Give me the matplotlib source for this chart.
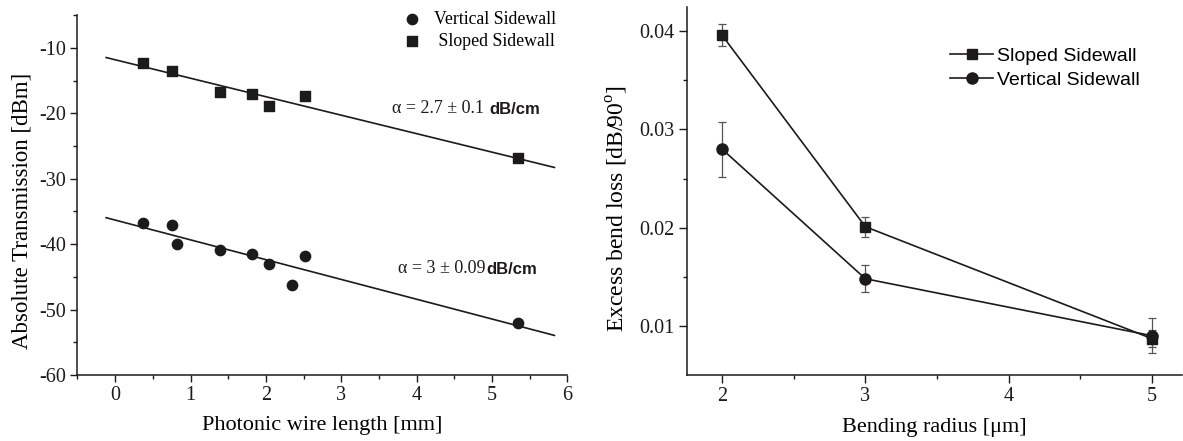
import numpy as np
import matplotlib
matplotlib.use('Agg')
import matplotlib.pyplot as plt

plt.rcParams['font.family'] = ['Liberation Serif', 'DejaVu Serif']
plt.rcParams['mathtext.fontset'] = 'custom'
plt.rcParams['mathtext.rm'] = 'Liberation Serif'
plt.rcParams['axes.unicode_minus'] = False

# --- left panel: transmission vs wire length
len_sloped = [0.37, 0.75, 1.39, 1.81, 2.04, 2.52, 5.34]
trans_sloped = [-12.3, -13.6, -16.7, -17.1, -18.9, -17.4, -26.9]
len_vert = [0.37, 0.75, 0.82, 1.39, 1.81, 2.04, 2.35, 2.52, 5.34]
trans_vert = [-36.8, -37.1, -40.0, -40.9, -41.5, -43.0, -46.3, -41.8, -52.1]
fit_span = [-0.12, 5.83]
alpha_sloped = 'α = 2.7 ± 0.1 '
alpha_vert = 'α = 3 ± 0.09'

# --- right panel: bend loss vs radius
radius = [2, 3, 5]
loss_sloped = [0.0396, 0.0201, 0.0087]
err_sloped = [0.0011, 0.0010, 0.0009]
loss_vert = [0.0280, 0.0148, 0.0090]
err_vert = [0.0028, 0.0014, 0.0018]

ink = '#1c1a1b'

fig = plt.figure(figsize=(11.83, 4.41), dpi=100)
ax1 = fig.add_axes([0.0655, 0.1497, 0.414, 0.816])
ax2 = fig.add_axes([0.5807, 0.1497, 0.4185, 0.835])

for ax, tl in ((ax1, 5), (ax2, 6)):
    for s in ('top', 'right'):
        ax.spines[s].set_visible(False)
    for s in ('left', 'bottom'):
        ax.spines[s].set_linewidth(1.1)
        ax.spines[s].set_color(ink)
    ax.tick_params(which='major', direction='out', length=tl, width=1.0,
                   labelsize=14.5, colors=ink, pad=3)
    ax.tick_params(which='minor', direction='out', length=3, width=1.0, colors=ink)

# left
ax1.scatter(len_vert, trans_vert, marker='o', s=55, color=ink, zorder=3,
            label='Vertical Sidewall')
ax1.scatter(len_sloped, trans_sloped, marker='s', s=45, color=ink, zorder=3,
            label=' Sloped Sidewall')
for xs, ys in ((len_sloped, trans_sloped), (len_vert, trans_vert)):
    p = np.polyfit(xs, ys, 1)
    ax1.plot(fit_span, np.polyval(p, fit_span), color=ink, lw=1.2, zorder=2)

ax1.set_xlim(-0.5, 6)
ax1.set_ylim(-60, -5)
ax1.set_xticks(np.arange(0, 7, 1))
ax1.set_xticks(np.arange(-0.5, 6, 1), minor=True)
ax1.set_yticks(np.arange(-60, -9, 10))
ax1.set_yticks(np.arange(-55, -4, 10), minor=True)
ax1.set_xlabel('Photonic wire length [mm]', fontsize=16, labelpad=8)
ax1.set_ylabel('Absolute Transmission [dBm]', fontsize=16.5)
ax1.yaxis.set_label_coords(-0.092, 0.456)
ax1.legend(loc='upper left', bbox_to_anchor=(0.6656, 1.012), frameon=False,
           fontsize=12.8, handlelength=1.0, handletextpad=0.7, labelspacing=0.3,
           borderpad=0, borderaxespad=0)

t1 = ax1.text(3.68, -19.2, alpha_sloped, fontsize=13, va='center', color=ink)
ax1.annotate('dB/cm', xy=(1, 0), xycoords=t1, va='bottom', ha='left',
             fontsize=12, fontweight='bold', family='Liberation Sans', color=ink)
t2 = ax1.text(3.76, -43.7, alpha_vert, fontsize=13, va='center', color=ink)
ax1.annotate('dB/cm', xy=(1, 0), xycoords=t2, va='bottom', ha='left',
             fontsize=12, fontweight='bold', family='Liberation Sans', color=ink)

# right
ax2.errorbar(radius, loss_sloped, yerr=err_sloped, fmt='none',
             ecolor='#555555', elinewidth=0.9, capsize=3, capthick=0.9)
ax2.errorbar(radius, loss_vert, yerr=err_vert, fmt='none',
             ecolor='#555555', elinewidth=0.9, capsize=3, capthick=0.9)
ax2.plot(radius, loss_sloped, marker='s', ms=7, color=ink, lw=1.2,
         label='Sloped Sidewall')
ax2.plot(radius, loss_vert, marker='o', ms=8, color=ink, lw=1.2,
         label='Vertical Sidewall')
ax2.set_xlim(1.755, 5.21)
ax2.set_ylim(0.005, 0.0425)
ax2.set_xticks([2, 3, 4, 5])
ax2.set_xticks([2.5, 3.5, 4.5], minor=True)
ax2.set_yticks([0.01, 0.02, 0.03, 0.04])
ax2.set_yticks([0.015, 0.025, 0.035], minor=True)
ax2.set_xlabel('Bending radius [μm]', fontsize=16, labelpad=8)
ax2.set_ylabel(r'Excess bend loss [dB/90$^\mathrm{o}$]', fontsize=17)
ax2.yaxis.set_label_coords(-0.115, 0.453)
ax2.legend(loc='upper left', bbox_to_anchor=(0.532, 0.889), frameon=False,
           prop={'family': 'Liberation Sans', 'size': 14},
           handlelength=2.2, handletextpad=0.2, labelspacing=0.3,
           borderpad=0, borderaxespad=0)

fig.savefig('out.png', dpi=100)
